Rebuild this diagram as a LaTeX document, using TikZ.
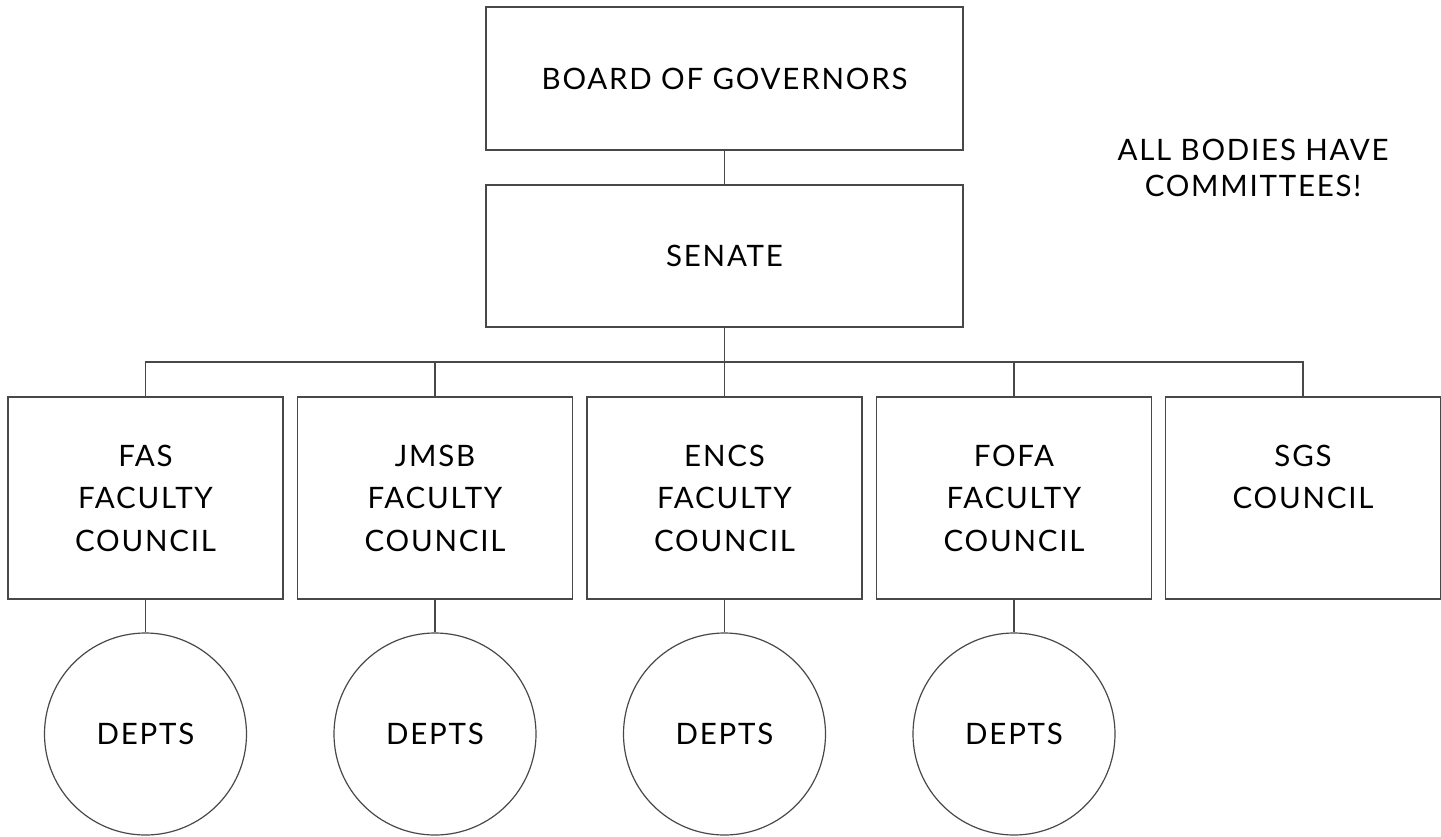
\documentclass[tikz,border=0pt]{standalone}
\usepackage{fontspec}
\setmainfont{Lato}[LetterSpace=6]
\definecolor{linec}{HTML}{484848}
\newcommand\orgfont{\fontsize{29.5}{42.5}\selectfont}
\newcommand\notefont{\fontsize{29.5}{36.5}\selectfont}
\begin{document}
\begin{tikzpicture}[x=1pt,y=-1pt,
  orgbox/.style={draw=linec, line width=1.2pt, rectangle, inner sep=0pt, align=center, font=\orgfont, minimum height=#1},
  orgbox/.default=202pt,
  facbox/.style={orgbox, minimum width=275pt},
  deptcirc/.style={draw=linec, line width=1.2pt, circle, inner sep=0pt, minimum size=202pt, font=\orgfont},
  link/.style={draw=linec, line width=1.2pt}]
\useasboundingbox (0,0) rectangle (1441,836);
\node[orgbox=143pt, minimum width=477pt] (board) at (724.5,78.5) {BOARD OF GOVERNORS};
\node[orgbox=142pt, minimum width=477pt] (senate) at (724.5,256) {SENATE};
\node[facbox] (fas)  at (145.5,498) {FAS\\FACULTY\\COUNCIL};
\node[facbox] (jmsb) at (435,498) {JMSB\\FACULTY\\COUNCIL};
\node[facbox] (encs) at (724.5,498) {ENCS\\FACULTY\\COUNCIL};
\node[facbox] (fofa) at (1014,498) {FOFA\\FACULTY\\COUNCIL};
\node[facbox] (sgs)  at (1303,498) {SGS\\COUNCIL\\\phantom{C}};
\node[deptcirc] (fasd)  at (145.5,734) {DEPTS};
\node[deptcirc] (jmsbd) at (435,734) {DEPTS};
\node[deptcirc] (encsd) at (724.5,734) {DEPTS};
\node[deptcirc] (fofad) at (1014,734) {DEPTS};
\node[align=center, font=\notefont, inner sep=0pt] (note) at (1253,168) {ALL BODIES HAVE\\COMMITTEES!};
\coordinate (bus) at (724.5,362);
\draw[link] (board.south) -- (senate.north);
\draw[link] (senate.south) -- (bus);
\draw[link] (fas.north) -- (fas.north |- bus) -- (sgs.north |- bus) -- (sgs.north);
\draw[link] (jmsb.north) -- (jmsb.north |- bus);
\draw[link] (encs.north) -- (encs.north |- bus);
\draw[link] (fofa.north) -- (fofa.north |- bus);
\draw[link] (fas.south) -- (fasd.north);
\draw[link] (jmsb.south) -- (jmsbd.north);
\draw[link] (encs.south) -- (encsd.north);
\draw[link] (fofa.south) -- (fofad.north);
\end{tikzpicture}
\end{document}
